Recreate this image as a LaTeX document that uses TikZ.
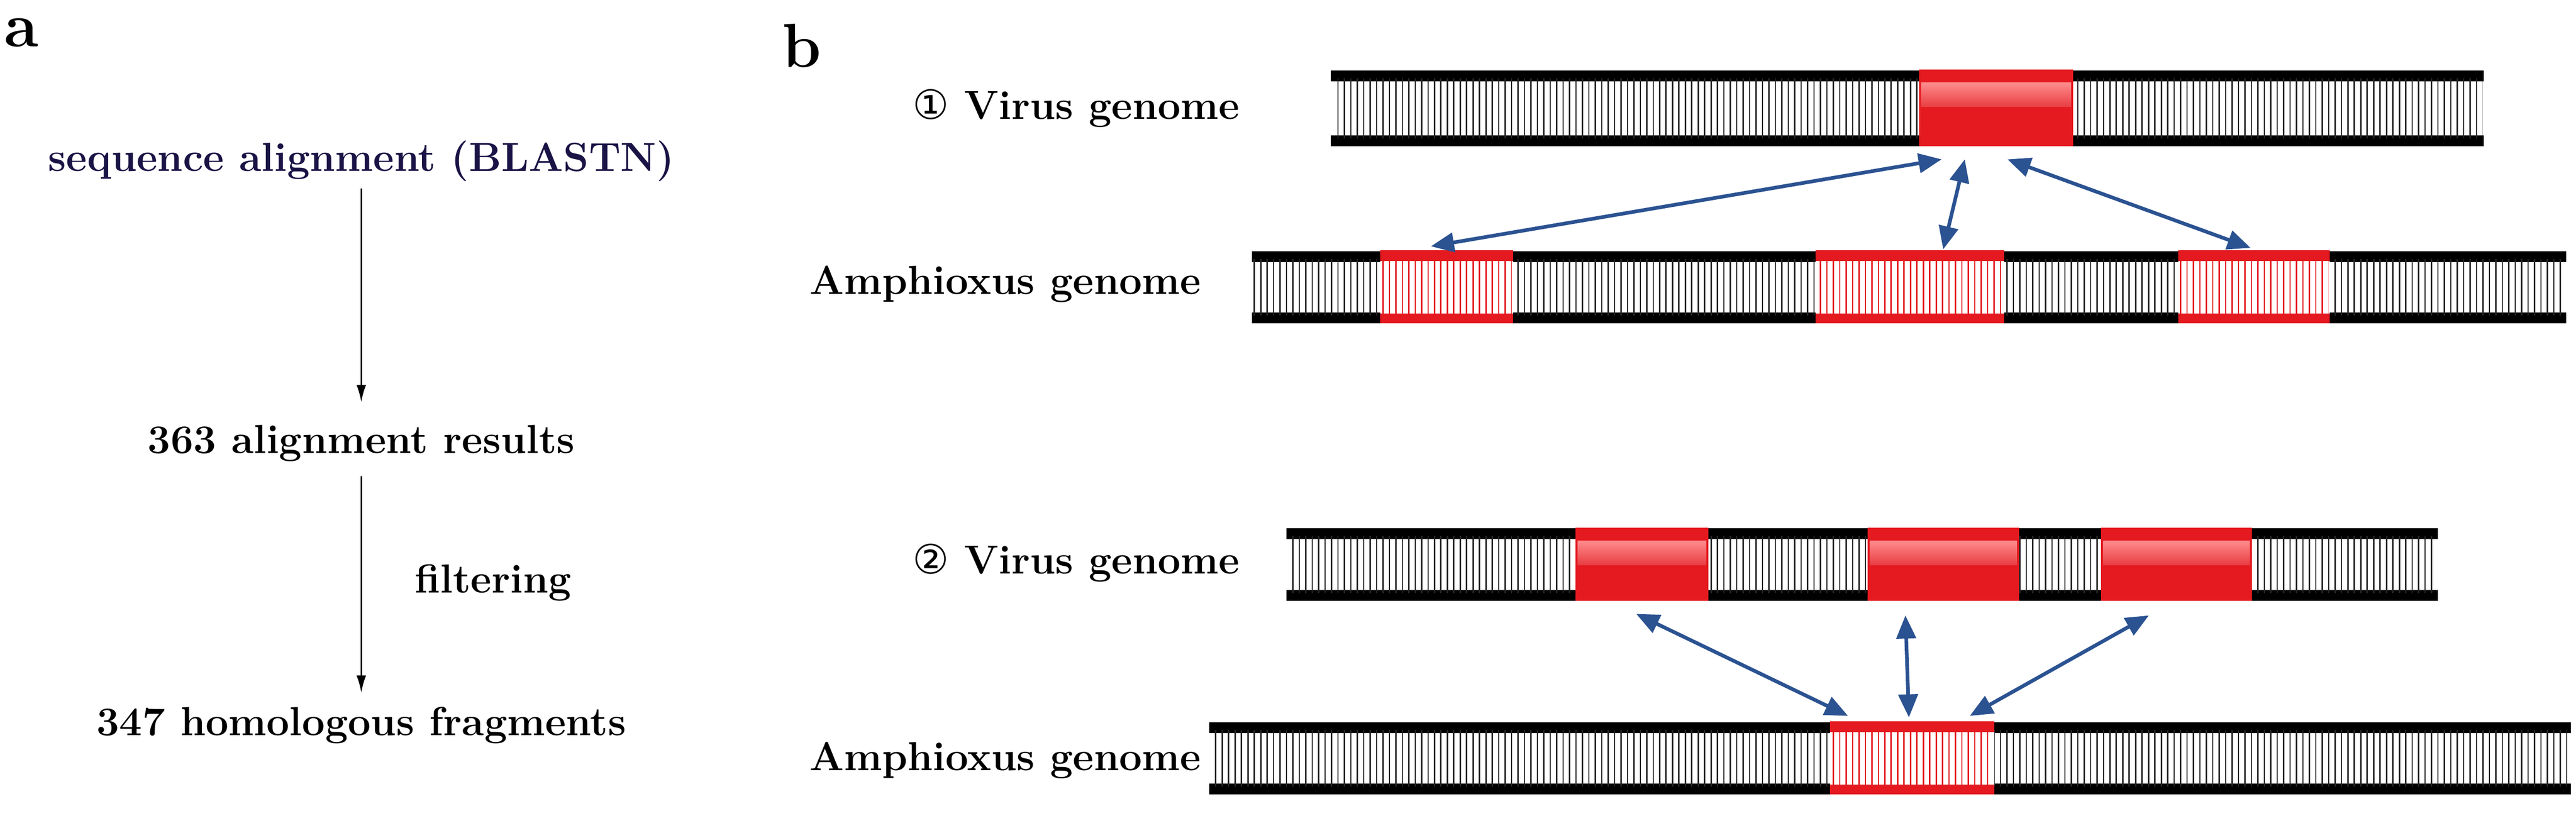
\documentclass[tikz,border=0pt]{standalone}
\usepackage{fontspec}
\newfontfamily\dejavu{DejaVu Sans}
\usetikzlibrary{arrows.meta}
\definecolor{arrblue}{RGB}{43,82,145}
\definecolor{navy}{RGB}{26,20,70}
\definecolor{gred}{RGB}{228,26,32}
\tikzset{
  lbl/.style={font=\fontsize{30}{36}\selectfont\bfseries, inner sep=0pt},
  panel/.style={font=\fontsize{46}{52}\selectfont\bfseries, inner sep=0pt},
  flow/.style={-{Latex[length=0.45cm,width=0.25cm]}, line width=1.3pt, black},
  link/.style={{Triangle[length=0.6cm,width=0.5cm]}-{Triangle[length=0.6cm,width=0.5cm]}, line width=2.7pt, arrblue},
}
% bar: x1 x2 ytop ybot
\newcommand\gbar[4]{%
  \fill[black] (#1,#3) rectangle (#2,#3-0.28);
  \fill[black] (#1,#4+0.28) rectangle (#2,#4);
  \begin{scope}
  \clip (#1+0.04,#3) rectangle (#2-0.04,#4);
  \draw[line width=1pt, black!85, xstep=0.167cm, ystep=100cm] (#1,#4+0.2) grid (#2,#3-0.2);
  \end{scope}}
% amphioxus red segment
\newcommand\ared[4]{%
  \fill[white] (#1,#3+0.03) rectangle (#2,#4);
  \fill[gred] (#1,#3+0.03) rectangle (#2,#3-0.25);
  \fill[gred] (#1,#4+0.25) rectangle (#2,#4);
  \begin{scope}
  \clip (#1+0.03,#3) rectangle (#2-0.03,#4);
  \draw[line width=1pt, gred, xstep=0.167cm, ystep=100cm] (#1,#4+0.2) grid (#2,#3-0.2);
  \end{scope}}
% virus red segment
\newcommand\vred[4]{%
  \fill[gred] (#1,#3+0.02) rectangle (#2,#4);
  \shade[top color=red!45!white, bottom color=gred!85!white] (#1+0.06,#3-0.32) rectangle (#2-0.06,#3-0.95);}
\begin{document}
\begin{tikzpicture}
\useasboundingbox (0,0) rectangle (66.88,-21.63);
% panel labels
\node[panel] (pa) at (0.55,-0.85) {a};
\node[panel] (pb) at (20.81,-1.19) {b};
% panel a
\node[lbl, text=navy] (s1) at (9.38,-4.18) {sequence alignment (BLASTN)};
\node[lbl] (s2) at (9.38,-11.52) {363 alignment results};
\node[lbl] (s3) at (9.38,-18.85) {347 homologous fragments};
\node[lbl] (flt) at (12.8,-15.14) {filtering};
\draw[flow] (9.38,-4.9) -- (9.38,-10.45);
\draw[flow] (9.38,-12.37) -- (9.38,-18.0);
% panel b texts
\node[lbl] (v1) at (27.94,-2.81) {{\dejavu\mdseries ①} Virus genome};
\node[lbl] (a1) at (26.10,-7.38) {Amphioxus genome};
\node[lbl] (v2) at (27.94,-14.63) {{\dejavu\mdseries ②} Virus genome};
\node[lbl] (a2) at (26.10,-19.75) {Amphioxus genome};
% genome bars
\gbar{34.55}{64.49}{-1.83}{-3.80}
\vred{49.82}{53.83}{-1.83}{-3.80}
\gbar{32.50}{66.62}{-6.53}{-8.40}
\ared{35.83}{39.28}{-6.53}{-8.40}
\ared{47.13}{52.03}{-6.53}{-8.40}
\ared{56.55}{60.48}{-6.53}{-8.40}
\gbar{33.40}{63.30}{-13.73}{-15.61}
\vred{40.90}{44.36}{-13.73}{-15.61}
\vred{48.49}{52.42}{-13.73}{-15.61}
\vred{54.55}{58.47}{-13.73}{-15.61}
\gbar{31.39}{66.75}{-18.77}{-20.64}
\ared{47.51}{51.78}{-18.77}{-20.64}
% arrow end points
\coordinate (t1a) at (50.41,-4.14); \coordinate (t1b) at (37.15,-6.40);
\coordinate (t2a) at (51.01,-4.14); \coordinate (t2b) at (50.45,-6.48);
\coordinate (t3a) at (52.12,-4.14); \coordinate (t3b) at (58.43,-6.44);
\coordinate (b1a) at (42.48,-15.95); \coordinate (b1b) at (47.98,-18.60);
\coordinate (b2a) at (49.47,-15.99); \coordinate (b2b) at (49.56,-18.64);
\coordinate (b3a) at (55.79,-15.99); \coordinate (b3b) at (51.14,-18.60);
\draw[link] (t1a) -- (t1b);
\draw[link] (t2a) -- (t2b);
\draw[link] (t3a) -- (t3b);
\draw[link] (b1a) -- (b1b);
\draw[link] (b2a) -- (b2b);
\draw[link] (b3a) -- (b3b);
\end{tikzpicture}
\end{document}
